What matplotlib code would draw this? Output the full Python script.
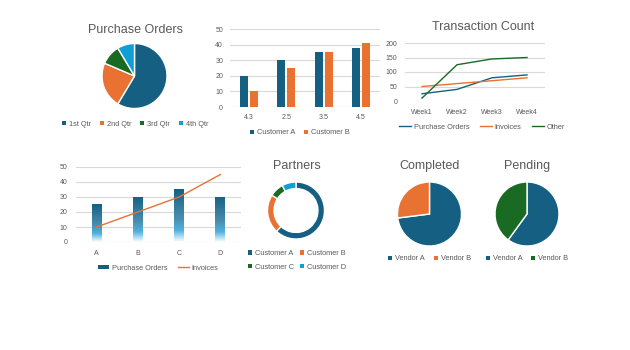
import numpy as np
import matplotlib
matplotlib.use("Agg")
import matplotlib.pyplot as plt
from matplotlib.patches import Patch
from matplotlib.lines import Line2D
from matplotlib.colors import LinearSegmentedColormap

# data
quarters = ["1st Qtr", "2nd Qtr", "3rd Qtr", "4th Qtr"]
po_sales = [8.2, 3.2, 1.4, 1.2]

bar_cats = ["4.3", "2.5", "3.5", "4.5"]
cust_a = [20, 30, 35, 38]
cust_b = [10, 25, 35, 41]

weeks = ["Week1", "Week2", "Week3", "Week4"]
tc_purchase = [25, 40, 80, 90]
tc_invoices = [50, 60, 70, 80]
tc_other = [10, 125, 145, 150]

combo_cats = ["A", "B", "C", "D"]
combo_orders = [25, 30, 35, 30]
combo_invoices = [10, 20, 30, 45]

partners = ["Customer A", "Customer B", "Customer C", "Customer D"]
partner_share = [62, 22, 8, 8]

vendors = ["Vendor A", "Vendor B"]
completed = [73, 27]
pending = [60, 40]

BLUE = "#156082"
ORANGE = "#E97132"
GREEN = "#196B24"
LBLUE = "#0F9ED5"
TXT = "#595959"
GRID = "#D9D9D9"

W, H = 630, 350
plt.rcParams["font.family"] = ["Liberation Sans", "DejaVu Sans"]
fig = plt.figure(figsize=(W / 100, H / 100), dpi=100)
fig.patch.set_facecolor("white")


def box(x0, y0, x1, y1):
    return [x0 / W, 1 - y1 / H, (x1 - x0) / W, (y1 - y0) / H]


def fx(x):
    return x / W


def fy(y):
    return 1 - y / H


def pie_axes(cx, cy, r):
    ax = fig.add_axes(box(cx - r, cy - r, cx + r, cy + r))
    ax.set_xlim(-1, 1)
    ax.set_ylim(-1, 1)
    ax.axis("off")
    return ax


def style_axes(ax):
    for s in ax.spines.values():
        s.set_visible(False)
    ax.tick_params(length=0, labelsize=5, colors=TXT, pad=3)
    ax.yaxis.grid(True, color=GRID, linewidth=0.8)
    ax.set_axisbelow(True)


def legend(handles, labels, x, y, ncol, spacing=1.2, rows=0.5):
    fig.legend(handles, labels, loc="center", bbox_to_anchor=(fx(x), fy(y)),
               ncol=ncol, frameon=False, fontsize=5.3, labelcolor=TXT,
               handlelength=0.55, handleheight=0.55, handletextpad=0.4,
               columnspacing=spacing, labelspacing=rows, borderpad=0, borderaxespad=0)


def sq(c):
    return Patch(facecolor=c, edgecolor="none")


# Purchase Orders pie
ax = pie_axes(134.5, 76, 32.5)
ax.pie(po_sales, colors=[BLUE, ORANGE, GREEN, LBLUE], startangle=90, counterclock=False,
       radius=1, wedgeprops=dict(edgecolor="white", linewidth=1))
ax.set_xlim(-1, 1)
ax.set_ylim(-1, 1)
fig.text(fx(135), fy(30), "Purchase Orders", ha="center", va="center", fontsize=9, color=TXT)
legend([sq(c) for c in [BLUE, ORANGE, GREEN, LBLUE]], quarters, 135, 124, 4)

# clustered bars
ax = fig.add_axes(box(230, 29, 380, 107))
x = np.arange(len(bar_cats))
ax.bar(x - 0.135, cust_a, 0.22, color=BLUE)
ax.bar(x + 0.135, cust_b, 0.22, color=ORANGE)
ax.set_xlim(-0.5, 3.5)
ax.set_ylim(0, 50)
ax.set_yticks(range(0, 51, 10))
ax.set_xticks(x, bar_cats)
style_axes(ax)
ax.tick_params(axis="y", pad=5)
ax.tick_params(axis="x", pad=5)
legend([sq(BLUE), sq(ORANGE)], ["Customer A", "Customer B"], 300, 133, 2)

# Transaction Count
ax = fig.add_axes(box(404.5, 43, 544.5, 101))
x = np.arange(len(weeks))
ax.plot(x, tc_purchase, color=BLUE, linewidth=1)
ax.plot(x, tc_invoices, color=ORANGE, linewidth=1)
ax.plot(x, tc_other, color=GREEN, linewidth=1)
ax.set_xlim(-0.5, 3.5)
ax.set_ylim(0, 200)
ax.set_yticks(range(0, 201, 50))
ax.set_xticks(x, weeks)
style_axes(ax)
ax.tick_params(axis="y", pad=5)
ax.tick_params(axis="x", pad=6)
fig.text(fx(483), fy(27.5), "Transaction Count", ha="center", va="center", fontsize=9, color=TXT)
fig.legend([Line2D([], [], color=c, linewidth=1) for c in [BLUE, ORANGE, GREEN]],
           ["Purchase Orders", "Invoices", "Other"], loc="center",
           bbox_to_anchor=(fx(482), fy(127)), ncol=3, frameon=False, fontsize=5.3,
           labelcolor=TXT, handlelength=1.6, handletextpad=0.4, columnspacing=1.4,
           borderpad=0, borderaxespad=0)

# combo: gradient bars + line
ax = fig.add_axes(box(76, 167, 241, 242))
x = np.arange(len(combo_cats))
grad = LinearSegmentedColormap.from_list(
    "g", [(0, "#ffffff"), (0.22, "#4FB3E0"), (0.45, "#4A8EAE"), (1, BLUE)])
bars = ax.bar(x, combo_orders, 0.24, color="none")
img = np.linspace(0, 1, 256).reshape(-1, 1)
for b in bars:
    im = ax.imshow(img, cmap=grad, origin="lower", aspect="auto",
                   extent=[b.get_x(), b.get_x() + b.get_width(), 0, b.get_height()], zorder=2)
    im.set_clip_path(b)
ax.plot(x, combo_invoices, color=ORANGE, linewidth=1, zorder=3)
ax.set_xlim(-0.5, 3.5)
ax.set_ylim(0, 50)
ax.set_yticks(range(0, 51, 10))
ax.set_xticks(x, combo_cats)
style_axes(ax)
ax.tick_params(axis="y", pad=6)
ax.tick_params(axis="x", pad=6)
fig.legend([Patch(facecolor=BLUE, edgecolor="none"), Line2D([], [], color=ORANGE, linewidth=1)],
           ["Purchase Orders", "Invoices"], loc="center",
           bbox_to_anchor=(fx(158), fy(268)), ncol=2, frameon=False, fontsize=5.3,
           labelcolor=TXT, handlelength=1.6, handleheight=0.5, handletextpad=0.3,
           columnspacing=1.4, borderpad=0, borderaxespad=0)

# Partners donut
ax = pie_axes(296, 210.5, 28.5)
ax.pie(partner_share, colors=[BLUE, ORANGE, GREEN, LBLUE], startangle=90, counterclock=False,
       radius=1, wedgeprops=dict(width=0.23, edgecolor="white", linewidth=1))
ax.set_xlim(-1, 1)
ax.set_ylim(-1, 1)
fig.text(fx(297), fy(166), "Partners", ha="center", va="center", fontsize=9, color=TXT)
# column-major fill: reorder so the rows read A B / C D
order = [0, 2, 1, 3]
pcols = [BLUE, ORANGE, GREEN, LBLUE]
legend([sq(pcols[i]) for i in order], [partners[i] for i in order], 297, 260.5, 2,
       spacing=0.8, rows=0.9)

# Completed / Pending
for cx, vals, title, cols in [(429.5, completed, "Completed", [BLUE, ORANGE]),
                              (527, pending, "Pending", [BLUE, GREEN])]:
    ax = pie_axes(cx, 214, 32)
    ax.pie(vals, colors=cols, startangle=90, counterclock=False, radius=1,
           wedgeprops=dict(edgecolor="white", linewidth=1))
    ax.set_xlim(-1, 1)
    ax.set_ylim(-1, 1)
    fig.text(fx(cx), fy(166), title, ha="center", va="center", fontsize=9, color=TXT)
    legend([sq(c) for c in cols], vendors, cx, 259, 2)

fig.savefig("out.png", dpi=100, facecolor="white")
